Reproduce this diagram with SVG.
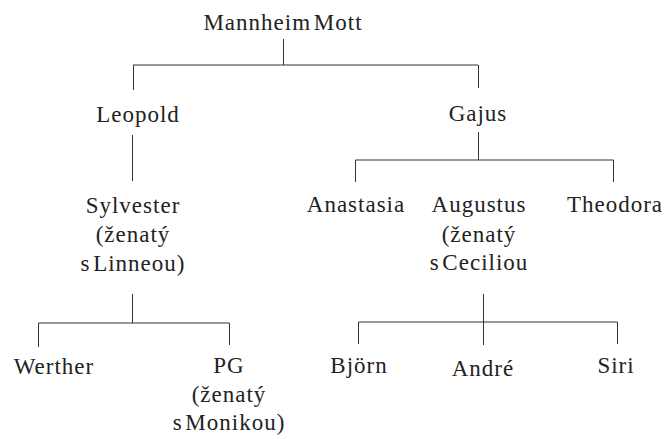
<svg xmlns="http://www.w3.org/2000/svg" width="670" height="439" viewBox="0 0 670 439">
<style>
.c line{stroke:#333;stroke-width:1;fill:none}
</style>
<rect width="670" height="439" fill="#fff"/>
<g class="c" id="connectors">
<line x1="283.5" y1="39" x2="283.5" y2="65"/>
<line x1="133" y1="65" x2="478" y2="65"/>
<line x1="133.5" y1="65" x2="133.5" y2="90"/>
<line x1="478.5" y1="65" x2="478.5" y2="88"/>
<line x1="132.5" y1="135" x2="132.5" y2="181"/>
<line x1="478.5" y1="132" x2="478.5" y2="160"/>
<line x1="355.5" y1="160" x2="613.5" y2="160"/>
<line x1="355.5" y1="160" x2="355.5" y2="182"/>
<line x1="613.5" y1="160" x2="613.5" y2="182"/>
<line x1="132.5" y1="294" x2="132.5" y2="323"/>
<line x1="38.5" y1="323" x2="229.5" y2="323"/>
<line x1="38.5" y1="323" x2="38.5" y2="347"/>
<line x1="229.5" y1="323" x2="229.5" y2="345"/>
<line x1="483.5" y1="294" x2="483.5" y2="345"/>
<line x1="358.5" y1="322" x2="617.5" y2="322"/>
<line x1="358.5" y1="322" x2="358.5" y2="344"/>
<line x1="617.5" y1="322" x2="617.5" y2="344"/>
</g>
<g font-family="Liberation Serif, Times New Roman, serif" font-size="23" letter-spacing="1" word-spacing="-4" fill="#222" text-anchor="middle">
<g id="mannheim"><text x="283" y="30">Mannheim Mott</text></g>
<g id="leopold"><text x="138" y="122">Leopold</text></g>
<g id="gajus"><text x="478" y="121">Gajus</text></g>
<g id="sylvester"><text x="133" y="213">Sylvester</text><text x="133" y="242">(ženatý</text><text x="133" y="271">s Linneou)</text></g>
<g id="anastasia"><text x="356" y="212">Anastasia</text></g>
<g id="augustus"><text x="479" y="212">Augustus</text><text x="479" y="242">(ženatý</text><text x="479" y="270">s Ceciliou</text></g>
<g id="theodora"><text x="615" y="212">Theodora</text></g>
<g id="werther"><text x="54" y="374">Werther</text></g>
<g id="pg"><text x="229" y="373">PG</text><text x="229" y="402">(ženatý</text><text x="229" y="430">s Monikou)</text></g>
<g id="bjorn"><text x="359" y="373">Björn</text></g>
<g id="andre"><text x="483" y="376">André</text></g>
<g id="siri"><text x="616" y="373">Siri</text></g>
</g>
</svg>
